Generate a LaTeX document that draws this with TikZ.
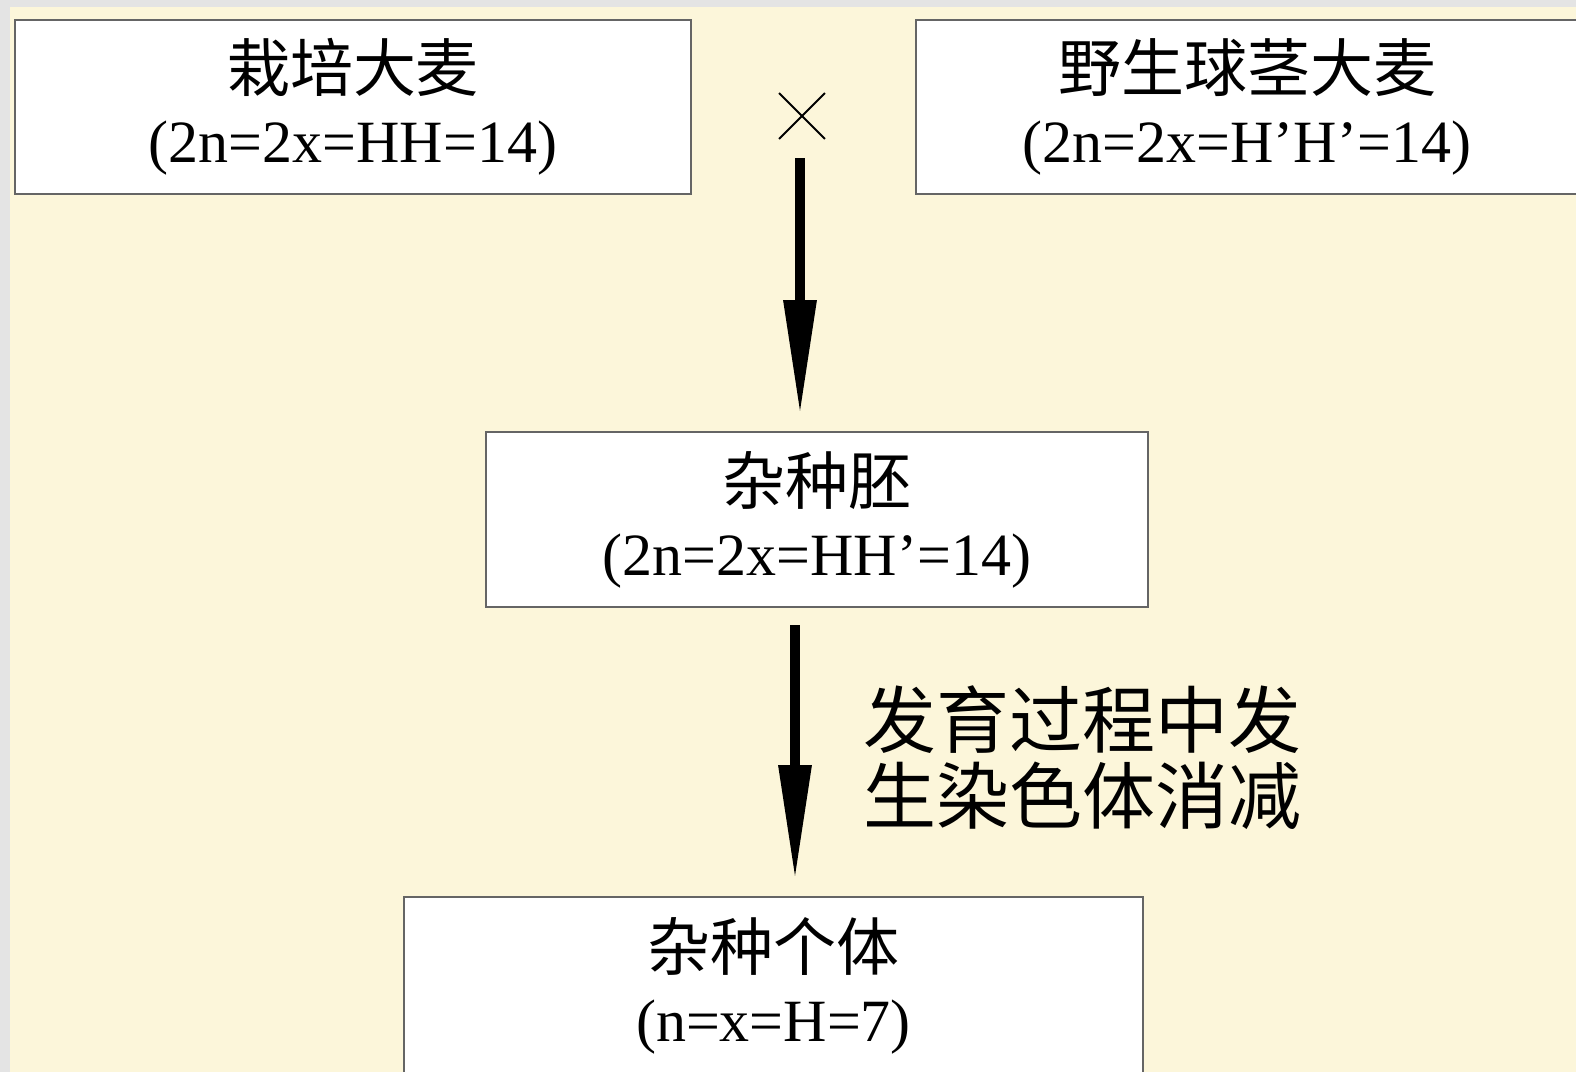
\documentclass[tikz,border=0pt]{standalone}
\usepackage{fontspec}
\setmainfont{Liberation Serif}
\newfontfamily\cjk{Noto Sans CJK SC}
\usetikzlibrary{arrows.meta}
\definecolor{bgyellow}{HTML}{FCF6DA}
\definecolor{bggray}{HTML}{E4E4E4}
\definecolor{boxline}{HTML}{656565}
\tikzset{
  box/.style={draw=boxline, line width=1.4pt, fill=white, align=center, inner sep=0pt,
    font=\fontsize{30}{34.5}\selectfont},
  arr/.style={line width=4.8pt, -{Triangle[length=57.5pt,width=15.5pt]}},
  lbl/.style={align=left, inner sep=0pt, font=\cjk\fontsize{36.5}{38}\selectfont}
}
\newcommand{\cn}[1]{{\cjk\fontsize{31.5}{34.5}\selectfont #1}}
\begin{document}
\begin{tikzpicture}[x=0.5pt,y=-0.5pt]
\useasboundingbox (0,0) rectangle (1576,1072);
\fill[bggray] (0,0) rectangle (1576,1072);
\fill[bgyellow] (10,7) rectangle (1576,1072);

\node[box, minimum width=338pt, minimum height=87pt] (b1) at (353,107)
  {\cn{栽培大麦}\\[1pt](2n=2x=HH=14)};
\node[box, minimum width=331pt, minimum height=87pt] (b2) at (1247,107)
  {\cn{野生球茎大麦}\\[1pt](2n=2x=H’H’=14)};
\node[box, minimum width=331pt, minimum height=87.5pt] (b3) at (817,519.5)
  {\cn{杂种胚}\\[1pt](2n=2x=HH’=14)};
\node[box, minimum width=369.5pt, minimum height=89pt] (b4) at (773.5,986)
  {\cn{杂种个体}\\[1pt](n=x=H=7)};

\node[minimum size=22.5pt, inner sep=0pt] (cross) at (802,116) {};
\draw[line width=1pt] (cross.north west) -- (cross.south east);
\draw[line width=1pt] (cross.north east) -- (cross.south west);

\coordinate (a1s) at (800,158);
\coordinate (a1e) at (800,415);
\draw[arr] (a1s) -- (a1e);

\coordinate (a2s) at (795,625);
\coordinate (a2e) at (795,880);
\draw[arr] (a2s) -- (a2e);

\node[lbl, anchor=west] (note) at (863,758) {发育过程中发\\生染色体消减};
\end{tikzpicture}
\end{document}
